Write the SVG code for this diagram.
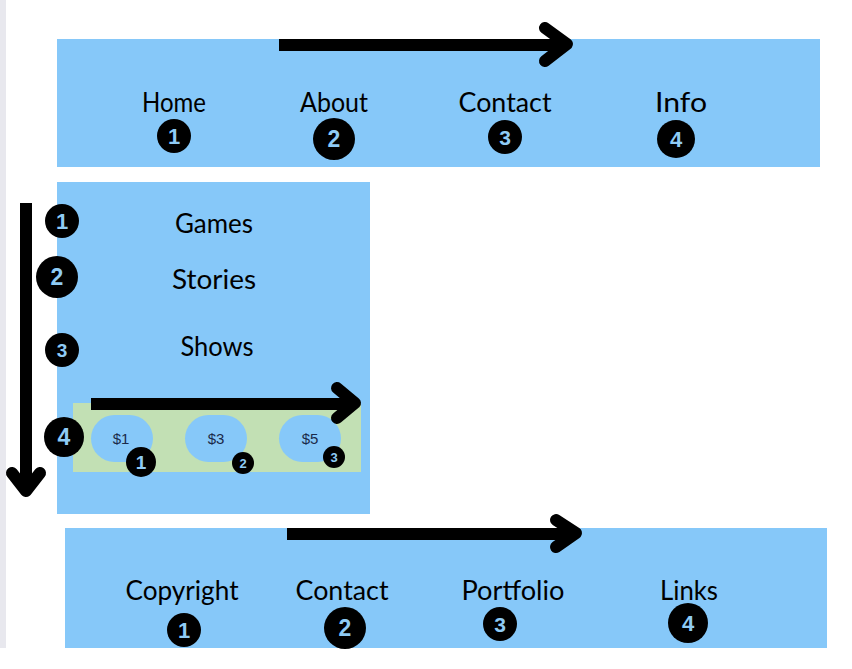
<svg xmlns="http://www.w3.org/2000/svg" width="852" height="669" viewBox="0 0 852 669">
<style>
.band{fill:#86c8f9}
.lbl{font-family:Lato,"Noto Sans",sans-serif;font-size:26px;fill:#000;text-anchor:middle}
.badge circle{fill:#000}
.badge text{font-family:"Liberation Sans",Arial,sans-serif;font-weight:bold;fill:#8fcbf5;text-anchor:middle}
.pill{fill:#86c8f9}
.price{font-family:"Liberation Sans",Arial,sans-serif;font-size:15px;fill:#1b2a4a;text-anchor:middle}
.shaft{stroke:#000;stroke-width:12;fill:none;stroke-linecap:butt}
.head{stroke:#000;stroke-width:12;fill:none;stroke-linecap:round;stroke-linejoin:round}
</style>
<rect x="0" y="0" width="852" height="669" fill="#fff"/>
<rect x="0" y="0" width="6" height="648" fill="#e8e8ee"/>

<g id="top-nav">
<rect class="band" x="57" y="39" width="763" height="128"/>
<g id="top-home"><text class="lbl" x="174" y="112" textLength="64" lengthAdjust="spacingAndGlyphs">Home</text>
<g class="badge"><circle cx="174" cy="136" r="17"/><text x="174" y="144" font-size="22">1</text></g></g>
<g id="top-about"><text class="lbl" x="334" y="112" textLength="68" lengthAdjust="spacingAndGlyphs">About</text>
<g class="badge"><circle cx="334" cy="139" r="21"/><text x="334" y="147" font-size="23">2</text></g></g>
<g id="top-contact"><text class="lbl" x="505" y="112" textLength="93" lengthAdjust="spacingAndGlyphs">Contact</text>
<g class="badge"><circle cx="505" cy="137" r="17"/><text x="505" y="145" font-size="21">3</text></g></g>
<g id="top-info"><text class="lbl" x="681" y="112" textLength="52" lengthAdjust="spacingAndGlyphs">Info</text>
<g class="badge"><circle cx="676" cy="139" r="19"/><text x="676" y="147" font-size="22">4</text></g></g>
</g>

<g id="side-nav">
<rect class="band" x="57" y="182" width="313" height="332"/>
<g id="side-games"><text class="lbl" x="214" y="233" textLength="78" lengthAdjust="spacingAndGlyphs">Games</text>
<g class="badge"><circle cx="62" cy="221" r="17"/><text x="62" y="229" font-size="22">1</text></g></g>
<g id="side-stories"><text class="lbl" x="214" y="289" textLength="84" lengthAdjust="spacingAndGlyphs">Stories</text>
<g class="badge"><circle cx="57" cy="277" r="21"/><text x="57" y="285" font-size="23">2</text></g></g>
<g id="side-shows"><text class="lbl" x="217" y="356" textLength="73" lengthAdjust="spacingAndGlyphs">Shows</text>
<g class="badge"><circle cx="62" cy="350" r="17"/><text x="62" y="357" font-size="19">3</text></g></g>
<g id="side-prices">
<rect x="73" y="403" width="288" height="69" fill="#c2e0b4"/>
<g class="badge"><circle cx="64" cy="437" r="20"/><text x="64" y="445" font-size="23">4</text></g>
<g id="price-1"><rect class="pill" x="91" y="415" width="62" height="47" rx="23.5"/><text class="price" x="121" y="444">$1</text>
<g class="badge"><circle cx="141" cy="462" r="15"/><text x="141" y="469" font-size="19">1</text></g></g>
<g id="price-3"><rect class="pill" x="185" y="415" width="62" height="47" rx="23.5"/><text class="price" x="216" y="444">$3</text>
<g class="badge"><circle cx="243" cy="463" r="11"/><text x="243" y="468" font-size="13">2</text></g></g>
<g id="price-5"><rect class="pill" x="279" y="415" width="62" height="47" rx="23.5"/><text class="price" x="310" y="444">$5</text>
<g class="badge"><circle cx="334" cy="457" r="11"/><text x="334" y="462" font-size="13">3</text></g></g>
</g>
</g>

<g id="footer-nav">
<rect class="band" x="65" y="528" width="762" height="120"/>
<g id="foot-copyright"><text class="lbl" x="182" y="600" textLength="113" lengthAdjust="spacingAndGlyphs">Copyright</text>
<g class="badge"><circle cx="184" cy="630" r="17"/><text x="184" y="638" font-size="22">1</text></g></g>
<g id="foot-contact"><text class="lbl" x="342" y="600" textLength="93" lengthAdjust="spacingAndGlyphs">Contact</text>
<g class="badge"><circle cx="345" cy="628" r="21"/><text x="345" y="636" font-size="23">2</text></g></g>
<g id="foot-portfolio"><text class="lbl" x="513" y="600" textLength="103" lengthAdjust="spacingAndGlyphs">Portfolio</text>
<g class="badge"><circle cx="500" cy="624" r="17"/><text x="500" y="632" font-size="21">3</text></g></g>
<g id="foot-links"><text class="lbl" x="689" y="600" textLength="58" lengthAdjust="spacingAndGlyphs">Links</text>
<g class="badge"><circle cx="688" cy="623" r="20"/><text x="688" y="631" font-size="22">4</text></g></g>
</g>

<g id="connectors">
<path class="shaft" d="M279 45 H566"/>
<path class="head" d="M545 28 L567 44 L545 61"/>
<path class="shaft" d="M26 203 V490"/>
<path class="head" d="M12 473 L26 491 L40 473"/>
<path class="shaft" d="M91 404 H354"/>
<path class="head" d="M337 388 L355 403 L337 418"/>
<path class="shaft" d="M287 534 H575"/>
<path class="head" d="M556 520 L576 533 L556 547"/>
</g>
</svg>
